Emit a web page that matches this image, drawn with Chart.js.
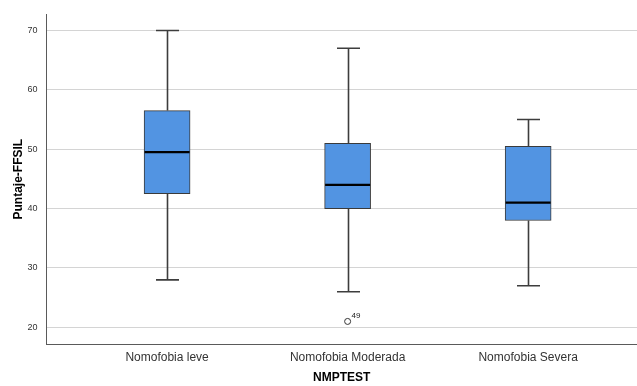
<!DOCTYPE html>
<html>
<head>
<meta charset="utf-8">
<script src="https://cdn.jsdelivr.net/npm/chart.js@4.4.1/dist/chart.umd.min.js"></script>
<style>
  html,body{margin:0;padding:0;background:#fff;}
  #wrap{width:637px;height:386px;position:relative;}
</style>
</head>
<body>
<div id="wrap"><canvas id="box"></canvas></div>
<script>
var categories=['Nomofobia leve','Nomofobia Moderada','Nomofobia Severa'];
var whiskerLow=[28,26,27];
var q1=[42.5,40,38];
var median=[49.5,44,41];
var q3=[56.5,51,50.5];
var whiskerHigh=[70,67,55];
var outliers=[{x:2,y:21,label:'49'}];
var yTicks=[20,30,40,50,60,70];

var boxPlugin={
    id:'boxParts',
    beforeDatasetsDraw:function(chart){
        var ctx=chart.ctx,xs=chart.scales.x,ys=chart.scales.y;
        ctx.save();
        ctx.strokeStyle='#3d3d3d';
        ctx.lineWidth=1.6;
        for(var i=0;i<categories.length;i++){
            var cx=Math.round(xs.getPixelForValue(i+1))+0.5;
            var lo=ys.getPixelForValue(whiskerLow[i]),hi=ys.getPixelForValue(whiskerHigh[i]);
            ctx.beginPath();
            ctx.moveTo(cx,ys.getPixelForValue(q1[i]));ctx.lineTo(cx,lo);
            ctx.moveTo(cx,ys.getPixelForValue(q3[i]));ctx.lineTo(cx,hi);
            ctx.moveTo(cx-11.5,lo);ctx.lineTo(cx+11.5,lo);
            ctx.moveTo(cx-11.5,hi);ctx.lineTo(cx+11.5,hi);
            ctx.stroke();
        }
        ctx.restore();
    },
    afterDatasetsDraw:function(chart){
        var ctx=chart.ctx,xs=chart.scales.x,ys=chart.scales.y;
        ctx.save();
        ctx.strokeStyle='#000';
        ctx.lineWidth=2.2;
        for(var i=0;i<categories.length;i++){
            var cx=xs.getPixelForValue(i+1),my=ys.getPixelForValue(median[i]);
            ctx.beginPath();
            ctx.moveTo(cx-22.5,my);ctx.lineTo(cx+22.5,my);
            ctx.stroke();
        }
        ctx.fillStyle='#222';
        ctx.font='8px "Liberation Sans", Arial, sans-serif';
        ctx.textBaseline='alphabetic';
        outliers.forEach(function(o){
            ctx.fillText(o.label,xs.getPixelForValue(o.x)+4,ys.getPixelForValue(o.y)-3);
        });
        ctx.restore();
    }
};

new Chart(document.getElementById('box'),{
    type:'bar',
    data:{
        datasets:[{
            type:'bar',
            data:categories.map(function(c,i){return {x:i+1,y:[q1[i],q3[i]]};}),
            backgroundColor:'#5294e2',
            borderColor:'#3a3a3a',
            borderWidth:1,
            borderSkipped:false,
            barThickness:46
        },{
            type:'scatter',
            data:outliers.map(function(o){return {x:o.x,y:o.y};}),
            pointStyle:'circle',
            pointRadius:3,
            pointHoverRadius:3,
            backgroundColor:'#fff',
            borderColor:'#333',
            borderWidth:1
        }]
    },
    options:{
        responsive:true,
        maintainAspectRatio:false,
        animation:false,
        layout:{autoPadding:false,padding:{top:14,right:0,left:0,bottom:0}},
        plugins:{legend:{display:false},tooltip:{enabled:false}},
        scales:{
            x:{
                type:'linear',
                offset:false,
                min:0.332,max:3.603,
                afterBuildTicks:function(s){s.ticks=[1,2,3].map(function(v){return {value:v};});},
                afterFit:function(s){s.height=42;s.paddingLeft=0;s.paddingRight=0;},
                grid:{display:false,drawTicks:false,offset:false},
                border:{display:true,color:'#5a5a5a',width:1},
                ticks:{
                    padding:6,
                    color:'#333',
                    font:{family:'"Liberation Sans", Arial, sans-serif',size:12},
                    callback:function(v){return categories[v-1]||'';},
                    maxRotation:0,autoSkip:false
                },
                title:{
                    display:true,text:'NMPTEST',color:'#000',
                    font:{family:'"Liberation Sans", Arial, sans-serif',size:12,weight:'bold'},
                    padding:{top:0,bottom:1}
                }
            },
            y:{
                min:17.2,max:72.7,
                afterBuildTicks:function(s){s.ticks=yTicks.map(function(v){return {value:v};});},
                afterFit:function(s){s.width=46.5;},
                grid:{color:'#d4d4d4',lineWidth:1,drawTicks:false},
                border:{display:true,color:'#5a5a5a',width:1},
                ticks:{
                    padding:9,
                    color:'#333',
                    font:{family:'"Liberation Sans", Arial, sans-serif',size:9}
                },
                title:{
                    display:true,text:'Puntaje-FFSIL',color:'#000',
                    font:{family:'"Liberation Sans", Arial, sans-serif',size:12,weight:'bold'},
                    padding:{top:11,bottom:0}
                }
            }
        }
    },
    plugins:[boxPlugin]
});
</script>
</body>
</html>
